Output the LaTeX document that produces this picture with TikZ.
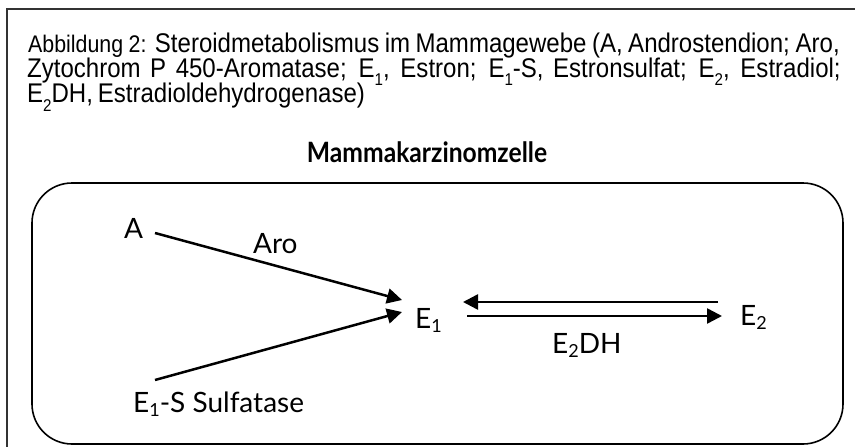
\documentclass[tikz,border=0pt]{standalone}
\usepackage{fontspec}
\usepackage{graphicx}
\setmainfont{Liberation Sans}
\newfontfamily\capfont{Liberation Sans}
\newfontfamily\diafont{Lato}
\usetikzlibrary{arrows.meta}
\newcommand{\lowsub}[1]{\raisebox{-9pt}{\capfont\fontsize{17pt}{17pt}\selectfont #1}}
\newcommand{\dsub}[1]{\raisebox{-0.3ex}{\diafont\fontsize{18pt}{18pt}\selectfont #1}}
\newcommand{\capline}[2]{\scalebox{0.89}[1]{\hbox to #1{\spaceskip=0.2em plus 1fil\relax #2}}}
\tikzset{
  frame/.style={line width=1.5pt, draw=black!80},
  cell/.style={line width=1.6pt, draw=black, rounded corners=40pt},
  captxt/.style={anchor=base west, inner sep=0pt, font=\capfont\fontsize{27pt}{27pt}\selectfont},
  diatxt/.style={anchor=base west, inner sep=0pt, font=\diafont\fontsize{28pt}{28pt}\selectfont},
  arr/.style={line width=2.5pt, -{Triangle[length=15pt,width=15pt]}},
}
\begin{document}
\begin{tikzpicture}[x=1pt,y=-1pt]
\useasboundingbox (0,0) rectangle (855,447);
\draw[frame] (7,447) -- (7,9) -- (855,9);
\draw[cell] (32,183) rectangle (843,444);
% caption
\node[captxt] (c1) at (28,52) {\capline{912pt}{{\capfont\fontsize{24pt}{24pt}\selectfont Abbildung 2:} Steroidmetabolismus im Mammagewebe (A, Androstendion; Aro,}};
\node[captxt] (c2) at (27,77) {\capline{914pt}{Zytochrom P 450-Aromatase; E\lowsub{1}, Estron; E\lowsub{1}-S, Estronsulfat; E\lowsub{2}, Estradiol;}};
\node[captxt] (c3) at (27,102) {\scalebox{0.89}[1]{\spaceskip=0.2em\relax E\lowsub{2}DH, Estradioldehydrogenase)}};
% diagram
\node[anchor=base, inner sep=0pt, font=\diafont\bfseries\fontsize{28pt}{28pt}\selectfont] (title) at (427,162) {\scalebox{0.88}[1]{Mammakarzinomzelle}};
\node[diatxt] (A) at (124,238) {A};
\node[diatxt] (aro) at (253,253) {Aro};
\node[diatxt] (E1) at (415,328) {E\dsub{1}};
\node[diatxt] (E1S) at (133,412) {E\dsub{1}-S Sulfatase};
\node[diatxt] (E2) at (740,325) {E\dsub{2}};
\node[diatxt] (dh) at (552,353) {E\dsub{2}DH};
\coordinate (aS) at (155,233);
\coordinate (aE) at (402,300);
\coordinate (sS) at (155,380);
\coordinate (sE) at (402,312);
\coordinate (tS) at (718,302);
\coordinate (tE) at (463,302);
\coordinate (bS) at (467,316);
\coordinate (bE) at (722,316);
\draw[arr] (aS) -- (aE);
\draw[arr] (sS) -- (sE);
\draw[arr] (tS) -- (tE);
\draw[arr] (bS) -- (bE);
\end{tikzpicture}
\end{document}
